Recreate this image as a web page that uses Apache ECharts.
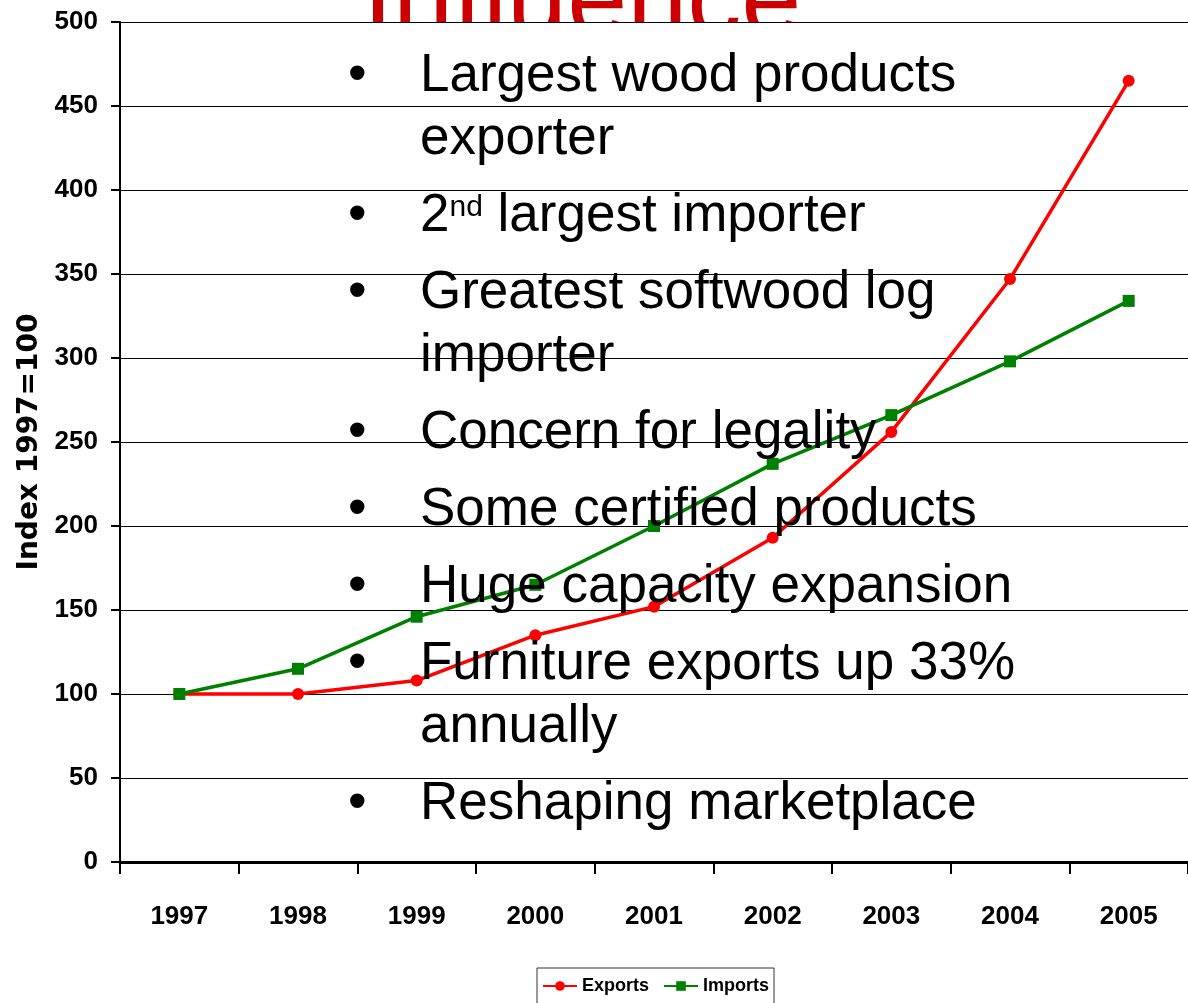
<!DOCTYPE html>
<html>
<head>
<meta charset="utf-8">
<script src="https://cdn.jsdelivr.net/npm/echarts@6/dist/echarts.min.js"></script>
<style>
html, body { margin: 0; padding: 0; background: #fff; }
#chart { width: 1188px; height: 1003px; }
</style>
</head>
<body>
<div id="chart"></div>
<script>
// data
var years = ['1997', '1998', '1999', '2000', '2001', '2002', '2003', '2004', '2005'];
var exports = [100, 100, 108, 135, 152, 193, 256, 347, 465];
var imports = [100, 115, 146, 165, 200, 237, 266, 298, 334];
var titleText = 'Influence';
var bullets = [
    ['Largest wood products', 'exporter'],
    ['2{s|nd} largest importer'],
    ['Greatest softwood log', 'importer'],
    ['Concern for legality'],
    ['Some certified products'],
    ['Huge capacity expansion'],
    ['Furniture exports up 33%', 'annually'],
    ['Reshaping marketplace']
];

var axisFont = "'Liberation Sans Narrow', 'Arial Narrow', 'Liberation Sans', sans-serif";
var bulletFont = "'Liberation Sans', Arial, sans-serif";

// build the overlaid bullet text
var textEls = [];
var baseline = 95;
bullets.forEach(function (b, bi) {
    if (bi > 0) baseline += 77;
    textEls.push({
        type: 'text', x: 348, y: baseline - 19, z: 10,
        style: { text: '\u2022', font: '53px ' + bulletFont, fill: '#000', verticalAlign: 'middle' }
    });
    b.forEach(function (line, li) {
        if (li > 0) baseline += 63;
        textEls.push({
            type: 'text', x: 420, y: baseline - 19, z: 10,
            style: {
                text: line,
                font: '53px ' + bulletFont,
                fill: '#000',
                verticalAlign: 'middle',
                rich: {
                    s: { fontSize: 30, fontFamily: bulletFont, fill: '#000', lineHeight: 30,
                         verticalAlign: 'middle', padding: [0, 0, 16, 0] }
                }
            }
        });
    });
});

var chart = echarts.init(document.getElementById('chart'));
var option = {
    backgroundColor: '#fff',
    animation: false,
    grid: {
        show: true, backgroundColor: '#fff', borderWidth: 0,
        left: 120, right: 0, top: 22, bottom: 141
    },
    legend: {
        data: ['Exports', 'Imports'],
        top: 968, left: 537,
        padding: [9, 5, 12, 5],
        borderColor: '#333', borderWidth: 1,
        itemWidth: 34, itemHeight: 12, itemGap: 14,
        textStyle: { fontFamily: axisFont, fontWeight: 'bold', fontSize: 18, color: '#000' }
    },
    xAxis: {
        type: 'category',
        data: years,
        boundaryGap: true,
        axisLine: { lineStyle: { color: '#000', width: 3 } },
        axisTick: { show: true, length: 12, interval: 0, lineStyle: { color: '#000', width: 2 } },
        axisLabel: { margin: 42, interval: 0, fontFamily: axisFont, fontWeight: 'bold', fontSize: 26, color: '#000' },
        splitLine: { show: false }
    },
    yAxis: {
        type: 'value',
        min: 0, max: 500, interval: 50,
        name: 'Index 1997=100',
        nameLocation: 'middle',
        nameGap: 70,
        nameTextStyle: { fontFamily: "'DejaVu Sans', sans-serif", fontWeight: 'bold', fontSize: 28, color: '#000' },
        axisLine: { show: true, lineStyle: { color: '#000', width: 2 } },
        axisTick: { show: true, length: 9, lineStyle: { color: '#000', width: 2 } },
        axisLabel: { margin: 22, fontFamily: axisFont, fontWeight: 'bold', fontSize: 26, color: '#000' },
        splitLine: { show: true, lineStyle: { color: '#000', width: 1 } }
    },
    series: [
        {
            name: 'Exports', type: 'line', data: exports,
            symbol: 'circle', symbolSize: 12,
            itemStyle: { color: '#ff0000' },
            lineStyle: { color: '#ff0000', width: 3.5 }
        },
        {
            name: 'Imports', type: 'line', data: imports,
            symbol: 'rect', symbolSize: 12,
            itemStyle: { color: '#008000' },
            lineStyle: { color: '#008000', width: 3.5 }
        }
    ],
    graphic: [
        {
            type: 'text', x: 363, y: 5, z: -5,
            style: { text: titleText, font: '108px ' + bulletFont, fill: '#cc0000', verticalAlign: 'middle' }
        }
    ].concat(textEls)
};
chart.setOption(option);
</script>
</body>
</html>
